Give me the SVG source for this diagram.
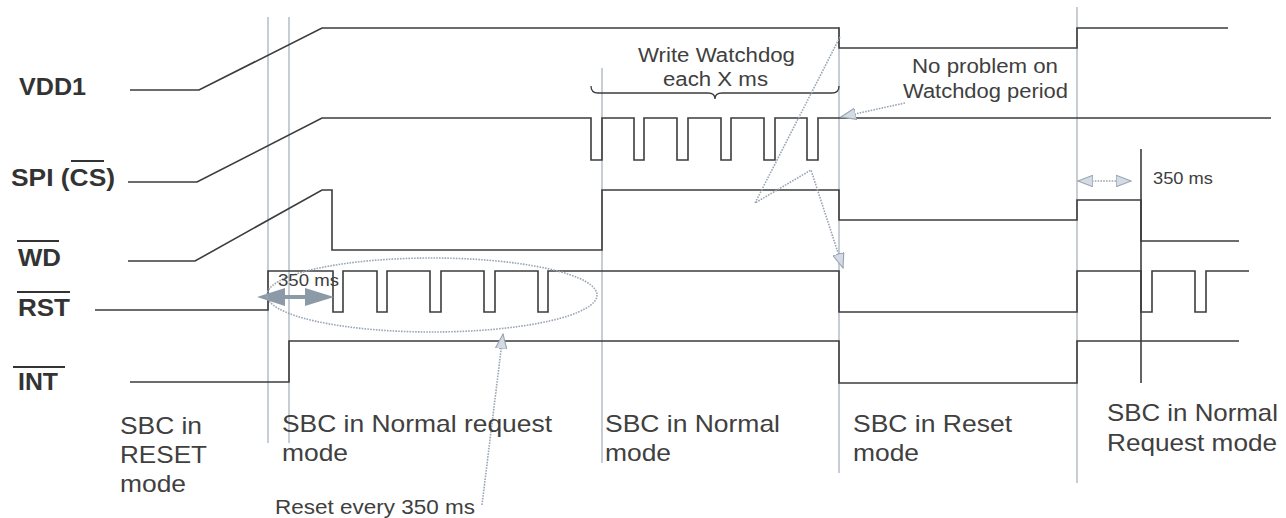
<svg xmlns="http://www.w3.org/2000/svg" width="1286" height="518" viewBox="0 0 1286 518">
<defs>
<style>
.sig{fill:none;stroke:#3c3c3c;stroke-width:1.6;stroke-linejoin:miter}
.grid{fill:none;stroke:#aeb8c4;stroke-width:1.4}
.dot{fill:none;stroke:#9aa6b4;stroke-width:1.6;stroke-dasharray:1.6 1.2}
.lbl{font-family:"Liberation Sans",Arial,sans-serif;font-weight:bold;font-size:23px;fill:#333}
.ovl{stroke:#333;stroke-width:2.2}
.mode{font-family:"Liberation Sans",Arial,sans-serif;font-size:24px;fill:#404040}
.note{font-family:"Liberation Sans",Arial,sans-serif;font-size:20px;fill:#404040}
.small{font-family:"Liberation Sans",Arial,sans-serif;font-size:17px;fill:#404040}
</style>
<marker id="ah" markerUnits="userSpaceOnUse" markerWidth="16" markerHeight="12" refX="13" refY="5" orient="auto-start-reverse" viewBox="0 0 14 10">
<path d="M0,0 L13,5 L0,10 Z" fill="#d5dbe2" stroke="#9aa6b4" stroke-width="1"/>
</marker>
</defs>

<g id="gridlines">
<line class="grid" x1="268" y1="17" x2="268" y2="443"/>
<line class="grid" x1="289" y1="17" x2="289" y2="443"/>
<line class="grid" x1="602" y1="68" x2="602" y2="463"/>
<line class="grid" x1="839" y1="27" x2="839" y2="473"/>
<line class="grid" x1="1077" y1="7" x2="1077" y2="483"/>
</g>

<g id="sig-vdd1">
<text class="lbl" x="19" y="95" textLength="67" lengthAdjust="spacingAndGlyphs">VDD1</text>
<polyline class="sig" points="130,90 199,90 322,28 839,28 839,48 1077,48 1077,28 1228,28"/>
</g>

<g id="sig-spi">
<text class="lbl" x="11" y="186" textLength="104" lengthAdjust="spacingAndGlyphs">SPI (CS)</text>
<line class="ovl" x1="71" y1="161" x2="104" y2="161"/>
<polyline class="sig" points="128,182 197,182 322,118 591,118 591,160 602,160 602,118 634,118 634,160 644,160 644,118 677,118 677,160 688,160 688,118 721,118 721,160 731,160 731,118 764,118 764,160 775,160 775,118 807,118 807,160 818,160 818,118 1271,118"/>
</g>

<g id="sig-wd">
<text class="lbl" x="18" y="266" textLength="43" lengthAdjust="spacingAndGlyphs">WD</text>
<line class="ovl" x1="17" y1="241" x2="59" y2="241"/>
<polyline class="sig" points="128,261 195,261 322,190 332,190 332,250 602,250 602,190 839,190 839,220 1077,220 1077,200 1141,200 1141,241 1239,241"/>
</g>

<g id="sig-rst">
<text class="lbl" x="18" y="316" textLength="52" lengthAdjust="spacingAndGlyphs">RST</text>
<line class="ovl" x1="17" y1="292" x2="70" y2="292"/>
<polyline class="sig" points="95,310 268,310 268,271 333,271 333,312 343,312 343,271 377,271 377,312 387,312 387,271 430,271 430,312 441,312 441,271 484,271 484,312 495,312 495,271 538,271 538,312 548,312 548,271 839,271 839,312 1077,312 1077,271 1141,271 1141,312 1152,312 1152,271 1195,271 1195,312 1206,312 1206,271 1249,271"/>
</g>

<g id="sig-int">
<text class="lbl" x="18" y="390" textLength="40" lengthAdjust="spacingAndGlyphs">INT</text>
<line class="ovl" x1="13" y1="367" x2="65" y2="367"/>
<polyline class="sig" points="130,382 289,382 289,341 839,341 839,383 1077,383 1077,341 1239,341"/>
</g>

<g id="marker-350">
<line class="sig" x1="1141" y1="149" x2="1141" y2="383"/>
</g>

<g id="connectors">
<path d="M591,86 Q591,93 598,93 L708,93 Q715,93 715,99 Q715,93 722,93 L832,93 Q839,93 839,86" fill="none" stroke="#3c3c3c" stroke-width="1.3"/>
<polygon points="257,297 285,288 285,295 305,295 305,288 334,297 305,306 305,299 285,299 285,306" fill="#8c9aa8"/>
<ellipse class="dot" cx="432" cy="295" rx="165" ry="37"/>
<line class="dot" x1="482" y1="505" x2="503" y2="334" marker-end="url(#ah)"/>
<polyline class="dot" points="840,37 755,203 811,170 843,268" marker-end="url(#ah)"/>
<line class="dot" x1="905" y1="103" x2="841" y2="117" marker-end="url(#ah)"/>
<line class="dot" x1="1078" y1="181" x2="1131" y2="181" marker-start="url(#ah)" marker-end="url(#ah)"/>
</g>

<g id="annotations">
<text class="note" x="638" y="62" textLength="157" lengthAdjust="spacingAndGlyphs">Write Watchdog</text>
<text class="note" x="663" y="86" textLength="105" lengthAdjust="spacingAndGlyphs">each X ms</text>
<text class="note" x="912" y="73" textLength="146" lengthAdjust="spacingAndGlyphs">No problem on</text>
<text class="note" x="903" y="98" textLength="165" lengthAdjust="spacingAndGlyphs">Watchdog period</text>
<text class="small" x="278" y="286" textLength="61" lengthAdjust="spacingAndGlyphs">350 ms</text>
<text class="small" x="1153" y="184" textLength="60" lengthAdjust="spacingAndGlyphs">350 ms</text>
<text class="note" x="275" y="514" font-size="19" textLength="200" lengthAdjust="spacingAndGlyphs">Reset every 350 ms</text>
</g>

<g id="modes">
<text class="mode" x="120" y="434" textLength="82" lengthAdjust="spacingAndGlyphs">SBC in</text>
<text class="mode" x="120" y="463" textLength="87" lengthAdjust="spacingAndGlyphs">RESET</text>
<text class="mode" x="120" y="492" textLength="66" lengthAdjust="spacingAndGlyphs">mode</text>
<text class="mode" x="282" y="432" textLength="270" lengthAdjust="spacingAndGlyphs">SBC in Normal request</text>
<text class="mode" x="282" y="461" textLength="66" lengthAdjust="spacingAndGlyphs">mode</text>
<text class="mode" x="605" y="432" textLength="175" lengthAdjust="spacingAndGlyphs">SBC in Normal</text>
<text class="mode" x="605" y="461" textLength="66" lengthAdjust="spacingAndGlyphs">mode</text>
<text class="mode" x="853" y="432" textLength="159" lengthAdjust="spacingAndGlyphs">SBC in Reset</text>
<text class="mode" x="853" y="461" textLength="66" lengthAdjust="spacingAndGlyphs">mode</text>
<text class="mode" x="1107" y="421" textLength="171" lengthAdjust="spacingAndGlyphs">SBC in Normal</text>
<text class="mode" x="1107" y="451" textLength="170" lengthAdjust="spacingAndGlyphs">Request mode</text>
</g>
</svg>
